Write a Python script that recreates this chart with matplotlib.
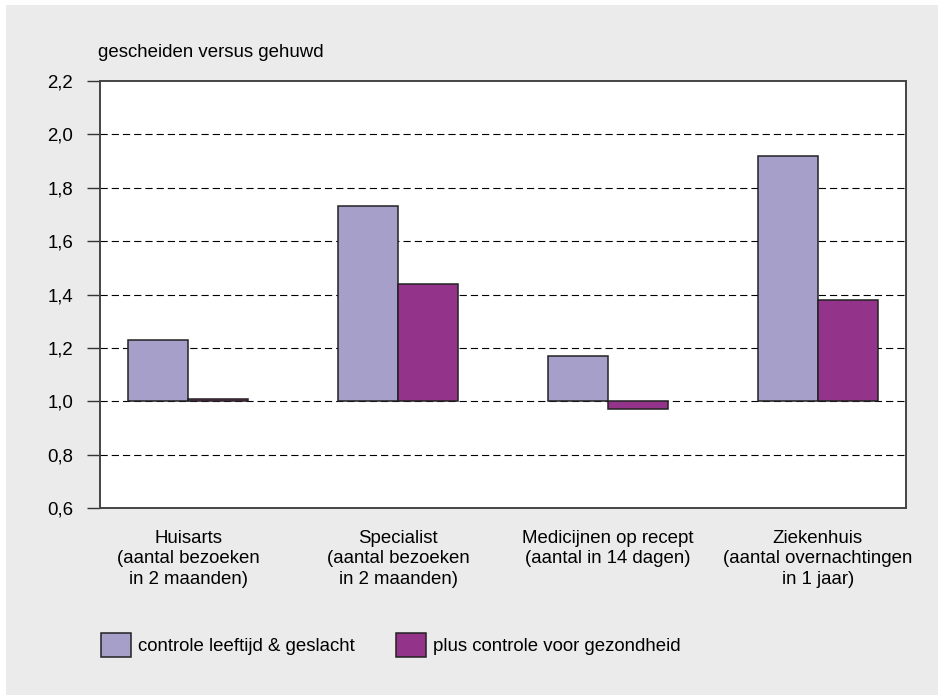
import matplotlib
matplotlib.use("Agg")
import matplotlib.pyplot as plt
from matplotlib.patches import Rectangle, Patch
import numpy as np

categories = [
    "Huisarts\n(aantal bezoeken\nin 2 maanden)",
    "Specialist\n(aantal bezoeken\nin 2 maanden)",
    "Medicijnen op recept\n(aantal in 14 dagen)",
    "Ziekenhuis\n(aantal overnachtingen\nin 1 jaar)",
]
series_names = ["controle leeftijd & geslacht", "plus controle voor gezondheid"]
controle = [1.23, 1.73, 1.17, 1.92]
plus_gezondheid = [1.01, 1.44, 0.97, 1.38]
yticks = [0.6, 0.8, 1.0, 1.2, 1.4, 1.6, 1.8, 2.0, 2.2]
ytick_labels = ["0,6", "0,8", "1,0", "1,2", "1,4", "1,6", "1,8", "2,0", "2,2"]
baseline = 1.0
ylabel_text = "gescheiden versus gehuwd"

colors = ["#a69fc9", "#93348a"]

plt.rcParams["font.family"] = ["Liberation Sans", "DejaVu Sans"]
FS = 13.4

W, H = 938, 695
fig = plt.figure(figsize=(W / 100, H / 100), dpi=100, facecolor="white")
fig.patches.append(Rectangle((6 / W, 0), 1 - 6 / W, 1 - 5 / H, transform=fig.transFigure,
                             facecolor="#ebebeb", edgecolor="none", zorder=-10))

ax = fig.add_axes([100 / W, 1 - 508 / H, 806 / W, (508 - 81) / H])
ax.set_facecolor("white")

x = np.arange(len(categories))
bw = 0.2857
ax.bar(x - bw / 2, np.array(controle) - baseline, bw, bottom=baseline, color=colors[0],
       edgecolor="#222222", linewidth=1.1, zorder=3)
ax.bar(x + bw / 2, np.array(plus_gezondheid) - baseline, bw, bottom=baseline, color=colors[1],
       edgecolor="#222222", linewidth=1.1, zorder=3)

ax.set_xlim(-0.42, 3.42)
ax.set_ylim(0.6, 2.2)
ax.set_yticks(yticks)
ax.set_yticklabels(ytick_labels, fontsize=FS)
ax.set_xticks(x)
ax.set_xticklabels(categories, fontsize=FS, linespacing=1.25)
ax.tick_params(axis="x", length=0, pad=16)
ax.tick_params(axis="y", length=9.4, width=1.0, color="#333333", pad=10)

for g in yticks[1:-1]:
    ax.axhline(g, color="black", linewidth=0.8, linestyle=(0, (6.5, 3.6)), zorder=1)

for s in ax.spines.values():
    s.set_color("#444444")
    s.set_linewidth(1.4)

fig.text(98 / W, 1 - 57 / H, ylabel_text, fontsize=FS, ha="left", va="baseline")

handles = [Patch(facecolor=colors[i], edgecolor="#222222", linewidth=1.1) for i in range(2)]
fig.legend(handles, series_names, loc="center left", bbox_to_anchor=(101 / W, 1 - 645 / H),
           ncol=2, frameon=False, fontsize=FS, borderpad=0, borderaxespad=0,
           handlelength=1.62, handleheight=1.68, handletextpad=0.38, columnspacing=2.2)

fig.savefig("out.png", dpi=100, facecolor=fig.get_facecolor())
